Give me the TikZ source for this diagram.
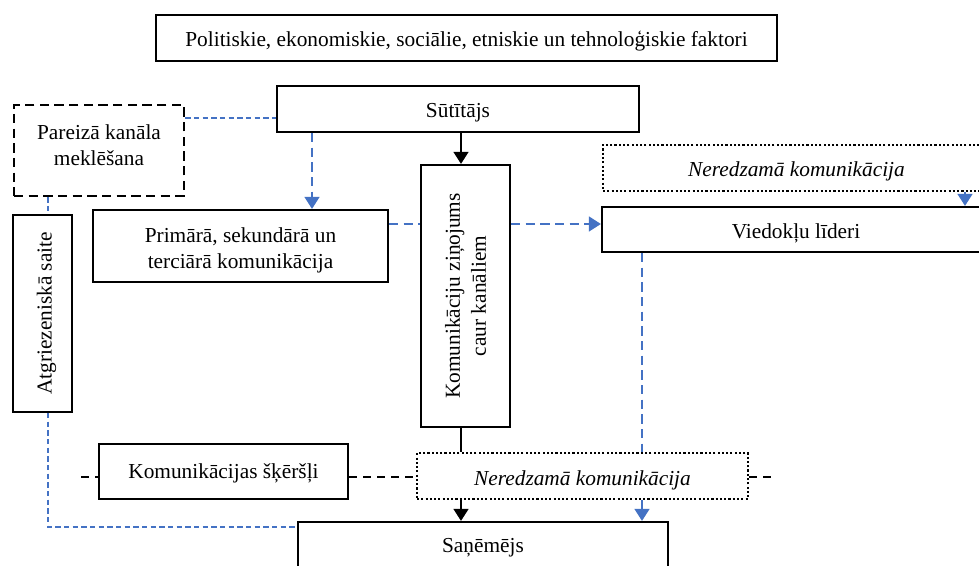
\documentclass[tikz,border=0pt]{standalone}
\usepackage{fontspec}
\setmainfont{Liberation Serif}
\usetikzlibrary{arrows.meta,fit}

\definecolor{linkblue}{RGB}{68,114,196}

\begin{document}
\begin{tikzpicture}[x=0.75pt,y=-0.75pt,
  box/.style={draw,line width=1.6pt,inner sep=0pt,fill=white},
  dbox/.style={box,line width=1.8pt,dash pattern=on 7pt off 4pt},
  obox/.style={box,line width=1.6pt,dash pattern=on 1.6pt off 1.6pt},
  lbl/.style={font=\fontsize{16}{19.5}\selectfont,align=center,inner sep=0pt},
  ilbl/.style={lbl,font=\fontsize{16}{19.5}\selectfont\itshape},
  tip/.style={-{Triangle[length=9pt,width=11pt]}},
  bluemain/.style={draw=linkblue,line width=1.7pt,dash pattern=on 7pt off 4pt},
  bluethin/.style={draw=linkblue,line width=0.8pt,dash pattern=on 4pt off 2.5pt},
  blackline/.style={line width=1.7pt},
  barrier/.style={line width=1.2pt,dash pattern=on 6pt off 4.5pt}]

\clip (0,0) rectangle (979,566);
\fill[white] (0,0) rectangle (979,566);

% boxes
\node[box,fit={(156,15)(777,61)}] (factors) {};
\node[box,fit={(277,86)(639,132)}] (src) {};
\node[dbox,fit={(14,105)(184,196)}] (seek) {};
\node[box,fit={(93,210)(388,282)}] (prim) {};
\node[box,fit={(421,165)(510,427)}] (msg) {};
\node[obox,fit={(603,145)(990,191)}] (inv1) {};
\node[box,fit={(602,207)(990,252)}] (lead) {};
\node[box,fit={(13,215)(72,412)}] (fb) {};
\node[box,fit={(99,444)(348,499)}] (obst) {};
\node[obox,fit={(417,453)(748,499)}] (inv2) {};
\node[box,fit={(298,522)(668,600)}] (rcv) {};

% labels
\node[lbl,yshift=-2.5pt] (factorstext) at (factors)
  {Politiskie, ekonomiskie, sociālie, etniskie un tehnoloģiskie faktori};
\node[lbl,yshift=-3pt] (srctext) at (src) {Sūtītājs};
\node[lbl,yshift=4pt] (seektext) at (seek) {Pareizā kanāla\\meklēšana};
\node[lbl,yshift=-3.5pt] (primtext) at (prim) {Primārā, sekundārā un\\terciārā komunikācija};
\node[lbl,rotate=90] (msgtext) at (msg) {Komunikāciju ziņojums\\caur kanāliem};
\node[ilbl,yshift=-2.5pt] (inv1text) at (inv1) {Neredzamā komunikācija};
\node[lbl,yshift=-3pt] (leadtext) at (lead) {Viedokļu līderi};
\node[lbl,xshift=3pt,rotate=90] (fbtext) at (fb) {Atgriezeniskā saite};
\node[lbl,yshift=-1.5pt] (obsttext) at (obst) {Komunikācijas šķēršļi};
\node[ilbl,yshift=-3pt] (inv2text) at (inv2) {Neredzamā komunikācija};
\node[lbl] (rcvtext) at (483,548) {Saņēmējs};

% guide coordinates for connector positions
\coordinate (xs) at (461,0);
\coordinate (xp) at (312,0);
\coordinate (xl) at (642,0);
\coordinate (xr) at (965,0);
\coordinate (xf) at (48,0);
\coordinate (ym) at (0,224);
\coordinate (yf) at (0,118);
\coordinate (yr) at (0,527);
\coordinate (yb) at (0,477);
\coordinate (bl) at (81,477);
\coordinate (br) at (772,477);

% main message path
\draw[blackline,tip] (xs |- src.south) -- (xs |- msg.north);
\draw[blackline] (xs |- msg.south) -- (xs |- inv2.north);
\draw[blackline,tip] (xs |- inv2.south) -- (xs |- rcv.north);

% channel connectors
\draw[bluemain,tip] (xp |- src.south) -- (xp |- prim.north);
\draw[bluemain] (prim.east |- ym) -- (msg.west |- ym);
\draw[bluemain,tip] (msg.east |- ym) -- (lead.west |- ym);
\draw[bluemain] (xl |- lead.south) -- (xl |- inv2.north);
\draw[bluemain,tip] (xl |- inv2.south) -- (xl |- rcv.north);
\draw[bluemain,tip] (xr |- inv1.south) -- (xr |- lead.north);

% feedback loop
\draw[bluethin] (seek.east |- yf) -- (src.west |- yf);
\draw[bluethin] (xf |- seek.south) -- (xf |- fb.north);
\draw[bluethin] (xf |- fb.south) -- (xf |- yr) -- (rcv.west |- yr);

% barrier line
\draw[barrier] (bl) -- (obst.west |- yb);
\draw[barrier] (obst.east |- yb) -- (inv2.west |- yb);
\draw[barrier] (inv2.east |- yb) -- (br);
\end{tikzpicture}
\end{document}
